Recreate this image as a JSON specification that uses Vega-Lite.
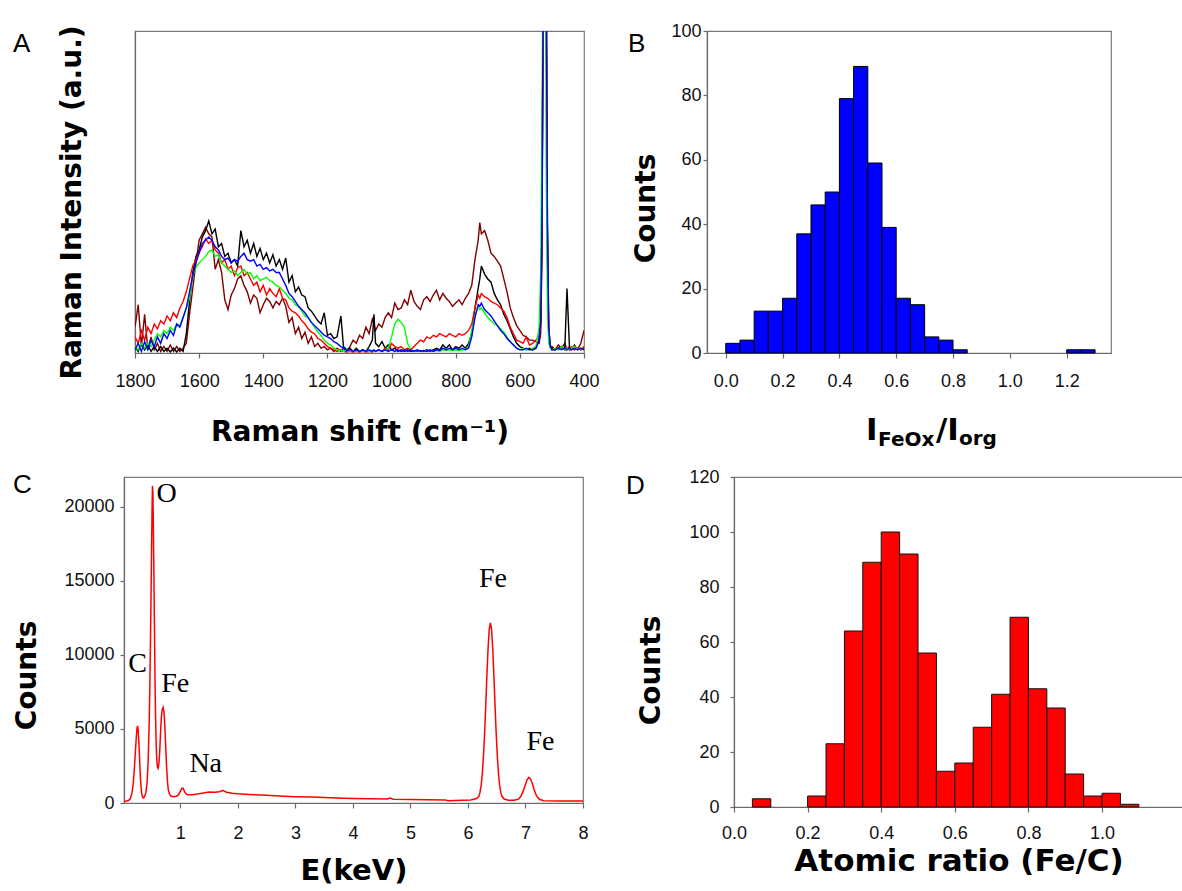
{
"$schema": "https://vega.github.io/schema/vega-lite/v6.json",
"background": "white",
"padding": {"left": 12, "top": 21, "right": 0, "bottom": 0},
"config": {
 "view": {"stroke": "#7a7a7a", "strokeWidth": 1.2},
 "axis": {"labelFont": "Liberation Sans", "labelFontSize": 18, "labelColor": "#111111", "titleFont": "DejaVu Sans", "titleFontWeight": "bold", "titleColor": "#000000", "titleFontSize": 28, "domainColor": "#6a6a6a", "tickColor": "#6a6a6a", "domainWidth": 1.2, "tickWidth": 1.2, "grid": false, "tickSize": 5, "labelFlush": false, "labelOverlap": false},
 "title": {"font": "Liberation Sans", "fontSize": 26, "fontWeight": "normal", "color": "#000000", "anchor": "start", "frame": "group", "offset": 0, "baseline": "alphabetic"}
},
"bounds": "full",
"spacing": 16,
"vconcat": [
{"hconcat": [
 {"width": 11, "height": 20, "data": {"values": [{"z": 0}]}, "mark": {"type": "point", "opacity": 0}, "encoding": {}, "view": {"stroke": null}},
 {"width": 449, "height": 322,
  "title": {"text": "A", "dx": -122, "dy": 36},
  "data": {"values": [
{"w":1800,"k":2,"r":5,"g":2,"b":1,"m":8},
{"w":1790,"k":0.5,"r":3,"g":1,"b":3,"m":15},
{"w":1780,"k":3,"r":7,"g":3,"b":0.5,"m":2},
{"w":1770,"k":1,"r":4,"g":1.5,"b":3.5,"m":12},
{"w":1760,"k":2.5,"r":8,"g":3,"b":1,"m":1},
{"w":1750,"k":0.5,"r":6,"g":2,"b":4,"m":5},
{"w":1740,"k":2,"r":9,"g":4,"b":2,"m":1},
{"w":1730,"k":0.5,"r":7.5,"g":6,"b":5,"m":3},
{"w":1720,"k":2,"r":10,"g":5,"b":3,"m":0.5},
{"w":1710,"k":0.5,"r":9,"g":7,"b":6,"m":2},
{"w":1700,"k":1.5,"r":11.5,"g":6,"b":4.5,"m":0.5},
{"w":1690,"k":0.3,"r":10,"g":8,"b":7,"m":2.5},
{"w":1680,"k":1.5,"r":12.5,"g":7,"b":5.5,"m":0.5},
{"w":1670,"k":0.3,"r":11,"g":9,"b":9,"m":2},
{"w":1660,"k":1.5,"r":14,"g":8.5,"b":8,"m":0.5},
{"w":1650,"k":0.5,"r":16,"g":11,"b":11,"m":1.5},
{"w":1640,"k":6,"r":19,"g":14,"b":14,"m":3},
{"w":1630,"k":16,"r":23,"g":17,"b":19,"m":12},
{"w":1620,"k":25,"r":27,"g":24,"b":24,"m":20},
{"w":1610,"k":30,"r":29,"g":26.5,"b":28,"m":28},
{"w":1600,"k":32,"r":31.5,"g":28,"b":31,"m":35},
{"w":1590,"k":36,"r":33,"g":29,"b":34,"m":37},
{"w":1580,"k":38,"r":35.5,"g":30,"b":35,"m":39},
{"w":1570,"k":41,"r":34,"g":31.5,"b":36,"m":37},
{"w":1560,"k":37,"r":35,"g":32,"b":35,"m":36},
{"w":1550,"k":38.5,"r":32,"g":30,"b":33,"m":26},
{"w":1540,"k":33,"r":31,"g":30.5,"b":32,"m":29},
{"w":1530,"k":34,"r":28,"g":28,"b":30,"m":25},
{"w":1520,"k":30,"r":29,"g":27,"b":29,"m":16.5},
{"w":1510,"k":31,"r":26,"g":26,"b":29.5,"m":13.5},
{"w":1500,"k":28,"r":27,"g":25,"b":28,"m":18},
{"w":1490,"k":29,"r":24,"g":25.5,"b":29,"m":20},
{"w":1480,"k":27,"r":26.5,"g":24,"b":28.5,"m":23},
{"w":1470,"k":38,"r":27,"g":25,"b":30,"m":24},
{"w":1460,"k":33,"r":24,"g":26,"b":31,"m":21},
{"w":1450,"k":35,"r":25,"g":24.5,"b":29,"m":19},
{"w":1440,"k":31,"r":23,"g":25,"b":28.5,"m":15.5},
{"w":1430,"k":34,"r":21,"g":23,"b":29,"m":18},
{"w":1420,"k":30,"r":22,"g":24,"b":27,"m":17},
{"w":1410,"k":32.5,"r":19,"g":22.5,"b":27.5,"m":12.5},
{"w":1400,"k":29,"r":21,"g":23,"b":26,"m":15},
{"w":1390,"k":31,"r":18,"g":23.5,"b":26.5,"m":17},
{"w":1380,"k":28,"r":20,"g":22.5,"b":25.5,"m":16},
{"w":1370,"k":30.5,"r":18.5,"g":22,"b":26,"m":14},
{"w":1360,"k":27,"r":17.5,"g":21,"b":25,"m":16},
{"w":1350,"k":29,"r":20,"g":20.5,"b":25,"m":15},
{"w":1340,"k":26,"r":17,"g":19.5,"b":23,"m":17},
{"w":1330,"k":29.5,"r":16.5,"g":18.5,"b":21,"m":14.5},
{"w":1320,"k":22,"r":14,"g":17,"b":18.5,"m":9.5},
{"w":1310,"k":24,"r":13,"g":16.5,"b":17.5,"m":11},
{"w":1300,"k":19,"r":12.5,"g":15,"b":16,"m":6},
{"w":1290,"k":20.5,"r":11.5,"g":14.5,"b":14.5,"m":8},
{"w":1280,"k":18,"r":10,"g":13,"b":13.5,"m":4.5},
{"w":1270,"k":17.5,"r":9,"g":11.5,"b":12.5,"m":6.5},
{"w":1260,"k":14,"r":7.5,"g":11,"b":11,"m":3},
{"w":1250,"k":13,"r":6.5,"g":9.5,"b":9.5,"m":5},
{"w":1240,"k":11.5,"r":6,"g":8,"b":8.5,"m":2},
{"w":1230,"k":10,"r":4.5,"g":6.5,"b":7.5,"m":3},
{"w":1220,"k":9,"r":4,"g":5.5,"b":6.5,"m":1.5},
{"w":1210,"k":12.5,"r":3,"g":4,"b":5.5,"m":2},
{"w":1200,"k":5.5,"r":2,"g":3,"b":5,"m":1},
{"w":1190,"k":6,"r":1.5,"g":2.5,"b":4.5,"m":1.5},
{"w":1180,"k":4.5,"r":1,"g":1.5,"b":3.5,"m":0.5},
{"w":1170,"k":5,"r":0.5,"g":1,"b":3,"m":1.5},
{"w":1158,"k":11.5,"r":1,"g":0.8,"b":2,"m":0.5},
{"w":1150,"k":2,"r":0.5,"g":0.5,"b":1.5,"m":1.5},
{"w":1140,"k":1,"r":0.3,"g":1,"b":0.8,"m":0.5},
{"w":1130,"k":1.5,"r":0.5,"g":0.5,"b":1,"m":2},
{"w":1120,"k":0.5,"r":0.3,"g":0.8,"b":0.5,"m":4},
{"w":1110,"k":1.5,"r":0.5,"g":0.4,"b":1,"m":3},
{"w":1100,"k":0.5,"r":0.3,"g":0.8,"b":0.5,"m":5.5},
{"w":1090,"k":1,"r":0.5,"g":0.5,"b":1,"m":4.5},
{"w":1080,"k":0.5,"r":0.3,"g":0.6,"b":0.5,"m":8},
{"w":1070,"k":2,"r":0.5,"g":0.4,"b":1,"m":6},
{"w":1060,"k":4,"r":0.3,"g":0.8,"b":0.5,"m":10.5},
{"w":1055,"k":12,"r":0.5,"g":0.5,"b":1,"m":9},
{"w":1050,"k":3,"r":0.5,"g":0.5,"b":0.5,"m":7},
{"w":1040,"k":2,"r":1,"g":0.8,"b":1,"m":9},
{"w":1030,"k":3.5,"r":0.5,"g":0.5,"b":0.5,"m":8},
{"w":1020,"k":1.5,"r":1.5,"g":1,"b":1,"m":11},
{"w":1010,"k":2.5,"r":1,"g":1.5,"b":0.5,"m":12.5},
{"w":1000,"k":1,"r":3,"g":5,"b":1,"m":11},
{"w":990,"k":1.5,"r":2,"g":9,"b":0.5,"m":15.5},
{"w":980,"k":0.5,"r":1.5,"g":10.5,"b":1,"m":13.5},
{"w":970,"k":1,"r":2,"g":9.5,"b":0.5,"m":14},
{"w":960,"k":0.5,"r":1,"g":8,"b":1,"m":16.5},
{"w":950,"k":1,"r":1.5,"g":3,"b":0.5,"m":15},
{"w":940,"k":0.5,"r":1,"g":1,"b":1,"m":19.5},
{"w":930,"k":0.8,"r":2,"g":0.5,"b":0.5,"m":16},
{"w":920,"k":0.5,"r":3,"g":0.8,"b":1,"m":14.5},
{"w":910,"k":0.8,"r":4,"g":0.5,"b":0.5,"m":13.5},
{"w":900,"k":0.5,"r":3.5,"g":0.8,"b":0.8,"m":16.5},
{"w":890,"k":1,"r":5,"g":0.5,"b":0.5,"m":17.5},
{"w":880,"k":0.5,"r":4.5,"g":0.8,"b":1,"m":16},
{"w":870,"k":1,"r":5.5,"g":0.5,"b":0.5,"m":18},
{"w":860,"k":1.5,"r":5,"g":0.8,"b":1,"m":19.5},
{"w":850,"k":1,"r":6,"g":0.5,"b":0.8,"m":16.5},
{"w":840,"k":2.5,"r":5.5,"g":1,"b":1.5,"m":18.5},
{"w":830,"k":1.5,"r":5,"g":0.8,"b":1,"m":17},
{"w":820,"k":2.5,"r":6,"g":1,"b":1.5,"m":16},
{"w":810,"k":1,"r":5.5,"g":0.8,"b":1,"m":14.5},
{"w":800,"k":2,"r":5,"g":1,"b":1.5,"m":15.5},
{"w":790,"k":1.5,"r":6,"g":0.8,"b":1,"m":16.5},
{"w":780,"k":2.5,"r":5.5,"g":1,"b":1.5,"m":15},
{"w":770,"k":1.5,"r":6,"g":1,"b":1,"m":17},
{"w":760,"k":3,"r":7,"g":2,"b":1.5,"m":18.5},
{"w":750,"k":6,"r":9,"g":7,"b":5,"m":21},
{"w":740,"k":14,"r":14,"g":11.5,"b":11,"m":29},
{"w":730,"k":20,"r":18,"g":14.5,"b":15,"m":35},
{"w":725,"k":23,"r":17,"g":13.5,"b":14.5,"m":40.5},
{"w":720,"k":27,"r":18.5,"g":14,"b":15.5,"m":37},
{"w":710,"k":24.5,"r":17.5,"g":12.5,"b":13.5,"m":38},
{"w":700,"k":23,"r":17,"g":11,"b":12.5,"m":35},
{"w":690,"k":22,"r":16,"g":10,"b":11.5,"m":31},
{"w":680,"k":18.5,"r":15.5,"g":9,"b":10,"m":30},
{"w":670,"k":16.5,"r":15,"g":8.5,"b":8.5,"m":28.5},
{"w":660,"k":15,"r":14,"g":7.5,"b":7,"m":27},
{"w":650,"k":12,"r":13,"g":6.5,"b":6,"m":23},
{"w":640,"k":10,"r":11,"g":5,"b":4.5,"m":19},
{"w":630,"k":7.5,"r":8,"g":3.5,"b":3.5,"m":14},
{"w":620,"k":5,"r":6,"g":2.5,"b":2.5,"m":11},
{"w":610,"k":3,"r":4,"g":1.5,"b":1.5,"m":8.5},
{"w":600,"k":2,"r":3.5,"g":1,"b":1,"m":7},
{"w":590,"k":1.5,"r":3,"g":1.5,"b":1,"m":5.5},
{"w":580,"k":1,"r":5,"g":1,"b":1.5,"m":5},
{"w":570,"k":1.5,"r":2.5,"g":1,"b":1,"m":4},
{"w":560,"k":1,"r":3,"g":1.5,"b":1,"m":4},
{"w":550,"k":1.5,"r":4,"g":2,"b":1.5,"m":3.5},
{"w":540,"k":4,"r":5,"g":8,"b":4,"m":3},
{"w":535,"k":10,"r":8,"g":25,"b":10,"m":6},
{"w":531,"k":40,"r":35,"g":75,"b":40,"m":30},
{"w":527,"k":120,"r":120,"g":130,"b":120,"m":120},
{"w":522,"k":200,"r":200,"g":200,"b":200,"m":200},
{"w":518,"k":120,"r":120,"g":60,"b":120,"m":120},
{"w":514,"k":40,"r":35,"g":15,"b":40,"m":30},
{"w":510,"k":8,"r":6,"g":3,"b":8,"m":5},
{"w":505,"k":2,"r":2,"g":1.5,"b":2,"m":2},
{"w":500,"k":1.5,"r":1,"g":1,"b":1,"m":2},
{"w":490,"k":1,"r":1.5,"g":1.5,"b":1,"m":1},
{"w":480,"k":1.5,"r":1,"g":1,"b":1.5,"m":2.5},
{"w":470,"k":2,"r":1.5,"g":2,"b":1,"m":1.5},
{"w":460,"k":1,"r":1,"g":1,"b":1.5,"m":3},
{"w":453,"k":20,"r":1.5,"g":1.5,"b":1,"m":1},
{"w":445,"k":1,"r":1,"g":1,"b":1.5,"m":2},
{"w":440,"k":1.5,"r":2,"g":1.5,"b":1,"m":1},
{"w":430,"k":1,"r":1,"g":2,"b":1.5,"m":2.5},
{"w":420,"k":1.5,"r":1.5,"g":1,"b":1,"m":1},
{"w":410,"k":1,"r":1,"g":1.5,"b":1.5,"m":3},
{"w":400,"k":1.5,"r":2,"g":1,"b":1,"m":7}
  ]},
  "transform": [{"fold": ["m", "k", "r", "g", "b"], "as": ["s", "I"]}],
  "mark": {"type": "line", "clip": true, "strokeWidth": 1.4},
  "encoding": {
   "x": {"field": "w", "type": "quantitative", "scale": {"domain": [400, 1800], "reverse": true, "nice": false, "zero": false},
         "axis": {"values": [1800, 1600, 1400, 1200, 1000, 800, 600, 400], "format": "d", "labelPadding": 14, "title": "Raman shift (cm⁻¹)", "titleY": 65}},
   "y": {"field": "I", "type": "quantitative", "scale": {"domain": [0, 100], "nice": false},
         "axis": {"labels": false, "ticks": false, "title": "Raman Intensity (a.u.)", "titleX": -49, "titleY": 171}},
   "color": {"field": "s", "type": "nominal", "scale": {"domain": ["m", "k", "r", "g", "b"], "range": ["#800000", "#000000", "#ff0000", "#00ff00", "#0000ff"]}, "legend": null}
  }
 },
 {"width": 123, "height": 20, "data": {"values": [{"z": 0}]}, "mark": {"type": "point", "opacity": 0}, "encoding": {}, "view": {"stroke": null}},
 {"width": 404, "height": 322,
  "title": {"text": "B", "dx": -79, "dy": 39},
  "layer": [
   {"data": {"values": [
{"x0":0.0,"x1":0.05,"c":3},{"x0":0.05,"x1":0.1,"c":4},{"x0":0.1,"x1":0.15,"c":13},{"x0":0.15,"x1":0.2,"c":13},
{"x0":0.2,"x1":0.25,"c":17},{"x0":0.25,"x1":0.3,"c":37},{"x0":0.3,"x1":0.35,"c":46},{"x0":0.35,"x1":0.4,"c":50},
{"x0":0.4,"x1":0.45,"c":79},{"x0":0.45,"x1":0.5,"c":89},{"x0":0.5,"x1":0.55,"c":59},{"x0":0.55,"x1":0.6,"c":39},
{"x0":0.6,"x1":0.65,"c":17},{"x0":0.65,"x1":0.7,"c":15},{"x0":0.7,"x1":0.75,"c":5},{"x0":0.75,"x1":0.8,"c":4},
{"x0":0.8,"x1":0.85,"c":1},{"x0":1.2,"x1":1.25,"c":1},{"x0":1.25,"x1":1.3,"c":1}
    ]},
    "mark": {"type": "rect", "fill": "#0000ff", "stroke": "#000000", "strokeWidth": 1},
    "encoding": {
     "x": {"field": "x0", "type": "quantitative", "scale": {"domain": [-0.066, 1.356], "nice": false, "zero": false},
           "axis": {"values": [0, 0.2, 0.4, 0.6, 0.8, 1.0, 1.2], "format": ".1f", "labelPadding": 14, "title": null}},
     "x2": {"field": "x1"},
     "y": {"field": "c", "type": "quantitative", "scale": {"domain": [0, 100], "nice": false},
           "axis": {"values": [0, 20, 40, 60, 80, 100], "tickSize": 4, "labelPadding": 2, "title": "Counts", "titleX": -47, "titleY": 177}},
     "y2": {"datum": 0}
    }
   },
   {"data": {"values": [{"t": 1}]}, "mark": {"type": "text", "text": "I", "align": "left", "baseline": "alphabetic", "font": "DejaVu Sans", "fontWeight": "bold", "fontSize": 31, "color": "#000000"},
    "encoding": {"x": {"datum": 0.494, "type": "quantitative"}, "y": {"datum": -27, "type": "quantitative"}}},
   {"data": {"values": [{"t": 1}]}, "mark": {"type": "text", "text": "FeOx", "align": "left", "baseline": "alphabetic", "font": "DejaVu Sans", "fontWeight": "bold", "fontSize": 20, "color": "#000000"},
    "encoding": {"x": {"datum": 0.536, "type": "quantitative"}, "y": {"datum": -28.9, "type": "quantitative"}}},
   {"data": {"values": [{"t": 1}]}, "mark": {"type": "text", "text": "/I", "align": "left", "baseline": "alphabetic", "font": "DejaVu Sans", "fontWeight": "bold", "fontSize": 31, "color": "#000000"},
    "encoding": {"x": {"datum": 0.740, "type": "quantitative"}, "y": {"datum": -27, "type": "quantitative"}}},
   {"data": {"values": [{"t": 1}]}, "mark": {"type": "text", "text": "org", "align": "left", "baseline": "alphabetic", "font": "DejaVu Sans", "fontWeight": "bold", "fontSize": 20, "color": "#000000"},
    "encoding": {"x": {"datum": 0.821, "type": "quantitative"}, "y": {"datum": -28.6, "type": "quantitative"}}}
  ]
 }
], "spacing": 0, "bounds": "flush"},
{"hconcat": [
 {"width": 459, "height": 326,
  "title": {"text": "C", "dx": -111, "dy": 25},
  "layer": [
   {"data": {"values": [
{"e":0.02,"n":100},{"e":0.06,"n":130},{"e":0.10,"n":170},{"e":0.13,"n":300},{"e":0.16,"n":700},{"e":0.18,"n":1300},
{"e":0.20,"n":2300},{"e":0.22,"n":3600},{"e":0.235,"n":4500},{"e":0.245,"n":5000},{"e":0.255,"n":5200},{"e":0.265,"n":5000},
{"e":0.28,"n":4000},{"e":0.295,"n":2600},{"e":0.31,"n":1400},{"e":0.325,"n":700},{"e":0.34,"n":420},{"e":0.355,"n":340},
{"e":0.37,"n":380},{"e":0.385,"n":520},{"e":0.40,"n":700},{"e":0.42,"n":1300},{"e":0.44,"n":2800},{"e":0.46,"n":5800},
{"e":0.47,"n":8000},{"e":0.48,"n":10800},{"e":0.49,"n":14000},{"e":0.50,"n":17300},{"e":0.508,"n":19800},{"e":0.515,"n":21400},
{"e":0.522,"n":21000},{"e":0.53,"n":18800},{"e":0.54,"n":15400},{"e":0.55,"n":11600},{"e":0.56,"n":8200},{"e":0.57,"n":5600},
{"e":0.58,"n":3900},{"e":0.59,"n":2900},{"e":0.60,"n":2450},{"e":0.613,"n":2340},{"e":0.625,"n":2600},{"e":0.64,"n":3400},
{"e":0.655,"n":4700},{"e":0.67,"n":5800},{"e":0.685,"n":6300},{"e":0.70,"n":6450},{"e":0.715,"n":6150},{"e":0.73,"n":5200},
{"e":0.745,"n":3800},{"e":0.76,"n":2500},{"e":0.775,"n":1500},{"e":0.79,"n":900},{"e":0.81,"n":600},{"e":0.84,"n":450},
{"e":0.88,"n":430},{"e":0.93,"n":460},{"e":0.97,"n":560},{"e":1.00,"n":800},{"e":1.03,"n":1000},{"e":1.05,"n":980},
{"e":1.08,"n":700},{"e":1.12,"n":560},{"e":1.2,"n":560},{"e":1.3,"n":610},{"e":1.4,"n":680},{"e":1.5,"n":740},
{"e":1.6,"n":720},{"e":1.68,"n":760},{"e":1.74,"n":860},{"e":1.8,"n":730},{"e":1.9,"n":660},{"e":2.0,"n":620},
{"e":2.2,"n":580},{"e":2.5,"n":520},{"e":2.8,"n":460},{"e":3.0,"n":430},{"e":3.3,"n":400},{"e":3.6,"n":350},
{"e":4.0,"n":300},{"e":4.3,"n":280},{"e":4.6,"n":270},{"e":4.65,"n":330},{"e":4.7,"n":260},{"e":5.0,"n":230},
{"e":5.3,"n":220},{"e":5.6,"n":210},{"e":5.65,"n":160},{"e":5.9,"n":180},{"e":6.05,"n":200},{"e":6.15,"n":300},
{"e":6.19,"n":450},{"e":6.21,"n":730},{"e":6.23,"n":1220},{"e":6.25,"n":2000},{"e":6.27,"n":3200},{"e":6.29,"n":4760},
{"e":6.31,"n":6680},{"e":6.33,"n":8680},{"e":6.35,"n":10480},{"e":6.37,"n":11740},{"e":6.39,"n":12150},{"e":6.41,"n":11740},
{"e":6.43,"n":10480},{"e":6.45,"n":8680},{"e":6.47,"n":6680},{"e":6.49,"n":4760},{"e":6.51,"n":3200},{"e":6.53,"n":2000},
{"e":6.55,"n":1220},{"e":6.57,"n":730},{"e":6.59,"n":450},{"e":6.63,"n":270},{"e":6.7,"n":190},{"e":6.8,"n":180},
{"e":6.88,"n":260},{"e":6.92,"n":450},{"e":6.96,"n":800},{"e":7.0,"n":1250},{"e":7.03,"n":1580},{"e":7.06,"n":1730},
{"e":7.09,"n":1600},{"e":7.12,"n":1300},{"e":7.15,"n":900},{"e":7.19,"n":500},{"e":7.24,"n":250},{"e":7.32,"n":150},
{"e":7.6,"n":130},{"e":8.0,"n":140}
    ]},
    "mark": {"type": "line", "color": "#ff0000", "strokeWidth": 1.5, "clip": true},
    "encoding": {
     "x": {"field": "e", "type": "quantitative", "scale": {"domain": [0.02, 8], "nice": false, "zero": false},
           "axis": {"values": [1, 2, 3, 4, 5, 6, 7, 8], "format": "d", "labelPadding": 16, "title": "E(keV)", "titleFontSize": 29, "titleY": 53}},
     "y": {"field": "n", "type": "quantitative", "scale": {"domain": [0, 22000], "nice": false},
           "axis": {"values": [0, 5000, 10000, 15000, 20000], "format": "d", "tickSize": 4, "labelPadding": 6, "title": "Counts", "titleX": -83, "titleY": 198}}
    }
   },
   {"data": {"values": [
{"lab":"O","e":0.587,"n":20300},{"lab":"C","e":0.096,"n":8840},{"lab":"Fe","e":0.666,"n":7490},
{"lab":"Na","e":1.157,"n":2090},{"lab":"Fe","e":6.19,"n":14575},{"lab":"Fe","e":7.017,"n":3576}
    ]},
    "mark": {"type": "text", "font": "Liberation Serif", "fontSize": 28, "align": "left", "baseline": "alphabetic", "color": "#000000"},
    "encoding": {"x": {"field": "e", "type": "quantitative"}, "y": {"field": "n", "type": "quantitative"}, "text": {"field": "lab"}}
   }
  ]
 },
 {"width": 151, "height": 20, "data": {"values": [{"z": 0}]}, "mark": {"type": "point", "opacity": 0}, "encoding": {}, "view": {"stroke": null}},
 {"width": 449, "height": 330,
  "title": {"text": "D", "dx": -108, "dy": 35},
  "data": {"values": [
{"a0":0.05,"a1":0.1,"n":3},{"a0":0.2,"a1":0.25,"n":4},{"a0":0.25,"a1":0.3,"n":23},{"a0":0.3,"a1":0.35,"n":64},
{"a0":0.35,"a1":0.4,"n":89},{"a0":0.4,"a1":0.45,"n":100},{"a0":0.45,"a1":0.5,"n":92},{"a0":0.5,"a1":0.55,"n":56},
{"a0":0.55,"a1":0.6,"n":13},{"a0":0.6,"a1":0.65,"n":16},{"a0":0.65,"a1":0.7,"n":29},{"a0":0.7,"a1":0.75,"n":41},
{"a0":0.75,"a1":0.8,"n":69},{"a0":0.8,"a1":0.85,"n":43},{"a0":0.85,"a1":0.9,"n":36},{"a0":0.9,"a1":0.95,"n":12},
{"a0":0.95,"a1":1.0,"n":4},{"a0":1.0,"a1":1.05,"n":5},{"a0":1.05,"a1":1.1,"n":1}
  ]},
  "mark": {"type": "rect", "fill": "#ff0000", "stroke": "#111111", "strokeWidth": 1},
  "encoding": {
   "x": {"field": "a0", "type": "quantitative", "scale": {"domain": [0, 1.22], "nice": false, "zero": false},
         "axis": {"values": [0, 0.2, 0.4, 0.6, 0.8, 1.0], "format": ".1f", "labelPadding": 12, "title": "Atomic ratio (Fe/C)", "titleFontSize": 31, "titleY": 39}},
   "x2": {"field": "a1"},
   "y": {"field": "n", "type": "quantitative", "scale": {"domain": [0, 120], "nice": false},
         "axis": {"values": [0, 20, 40, 60, 80, 100, 120], "tickSize": 4, "labelPadding": 11, "title": "Counts", "titleX": -69, "titleY": 193}},
   "y2": {"datum": 0}
  }
 }
], "spacing": 0, "bounds": "flush"}
]
}
